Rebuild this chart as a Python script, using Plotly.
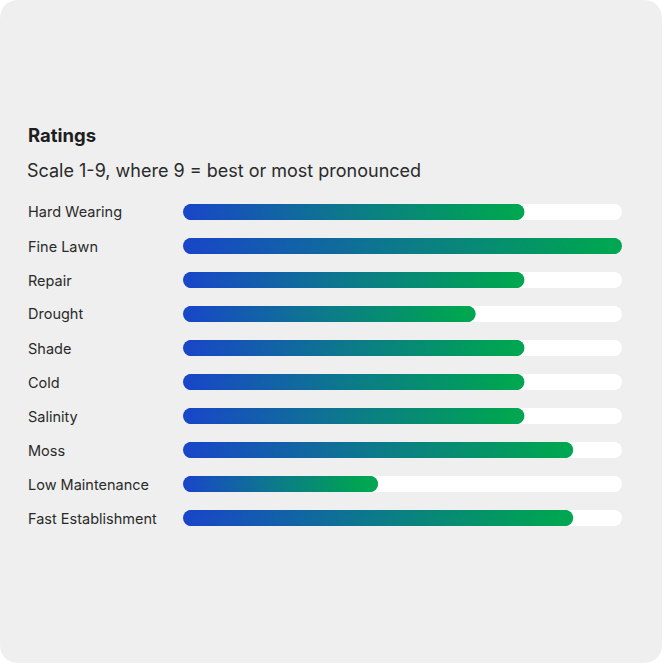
import numpy as np
import plotly.graph_objects as go

categories = ["Hard Wearing", "Fine Lawn", "Repair", "Drought", "Shade", "Cold",
              "Salinity", "Moss", "Low Maintenance", "Fast Establishment"]
ratings = [7, 9, 7, 6, 7, 7, 7, 8, 4, 8]
scale_max = 9
title_text = "Ratings"
subtitle_text = "Scale 1-9, where 9 = best or most pronounced"

W = H = 664
BAR_PX = 16
X0_PX, X1_PX = 183, 622
ROW_PX = 34
Y_TOP_PX = 212  # centre of first row

FONT = "Inter"
BLUE = "#1a47c9"
GREEN = "#00a651"
CARD = "#efefef"

r_units = (BAR_PX / 2) / (X1_PX - X0_PX) * scale_max

fig = go.Figure()

# tracks (white rounded)
for i, _ in enumerate(categories):
    n = 500
    xs = np.linspace(r_units, scale_max - r_units, n)
    fig.add_trace(go.Scatter(
        x=xs, y=[i] * n, mode="markers",
        marker=dict(size=BAR_PX, color="#ffffff", line=dict(width=0)),
        hoverinfo="skip", showlegend=False))

# gradient bars
for i, v in enumerate(ratings):
    n = int(v / scale_max * 500) + 2
    xs = np.linspace(r_units, v - r_units, n)
    fig.add_trace(go.Scatter(
        x=xs, y=[i] * n, mode="markers",
        marker=dict(size=BAR_PX, color=np.linspace(0, 1, n),
                    colorscale=[[0, BLUE], [0.5, "#0e7a8c"], [1, GREEN]],
                    cmin=0, cmax=1, line=dict(width=0)),
        hoverinfo="skip", showlegend=False))

annotations = []
for i, c in enumerate(categories):
    annotations.append(dict(text=c, x=26 / W, xref="paper", xanchor="left",
                            y=i, yref="y", yanchor="middle", showarrow=False,
                            font=dict(family=FONT, size=14.5, color="#2a2a2a")))
annotations.append(dict(text="<b>" + title_text + "</b>", x=26 / W, xref="paper",
                        xanchor="left", y=1 - 135 / H, yref="paper", yanchor="middle",
                        showarrow=False, font=dict(family=FONT, size=18.5, color="#1e1e1e")))
annotations.append(dict(text=subtitle_text, x=25 / W, xref="paper",
                        xanchor="left", y=1 - 170 / H, yref="paper", yanchor="middle",
                        showarrow=False, font=dict(family=FONT, size=18, color="#2a2a2a")))

# card background with rounded corners (paper coords)
rc = 20 / W
xe = 662 / W
ye = 1 - 663 / H
card_path = (f"M {rc},{ye} L {xe-rc},{ye} Q {xe},{ye} {xe},{ye+rc} L {xe},{1-rc} "
             f"Q {xe},1 {xe-rc},1 L {rc},1 Q 0,1 0,{1-rc} L 0,{ye+rc} Q 0,{ye} {rc},{ye} Z")

n_rows = len(categories)
y_top_edge = Y_TOP_PX - ROW_PX / 2
y_bot_edge = Y_TOP_PX + ROW_PX * (n_rows - 1) + ROW_PX / 2

fig.update_layout(
    width=W, height=H,
    margin=dict(l=0, r=0, t=0, b=0),
    paper_bgcolor="#ffffff",
    plot_bgcolor="rgba(0,0,0,0)",
    shapes=[dict(type="path", path=card_path, xref="paper", yref="paper",
                 fillcolor=CARD, line=dict(width=0), layer="below")],
    xaxis=dict(domain=[X0_PX / W, X1_PX / W], range=[0, scale_max],
               visible=False, fixedrange=True),
    yaxis=dict(domain=[1 - y_bot_edge / H, 1 - y_top_edge / H],
               range=[n_rows - 0.5, -0.5], visible=False, fixedrange=True),
    annotations=annotations,
    showlegend=False,
)

fig.write_html("out.html", config={"displayModeBar": False},
               post_script="document.body.style.margin='0';document.body.style.overflow='hidden';")
